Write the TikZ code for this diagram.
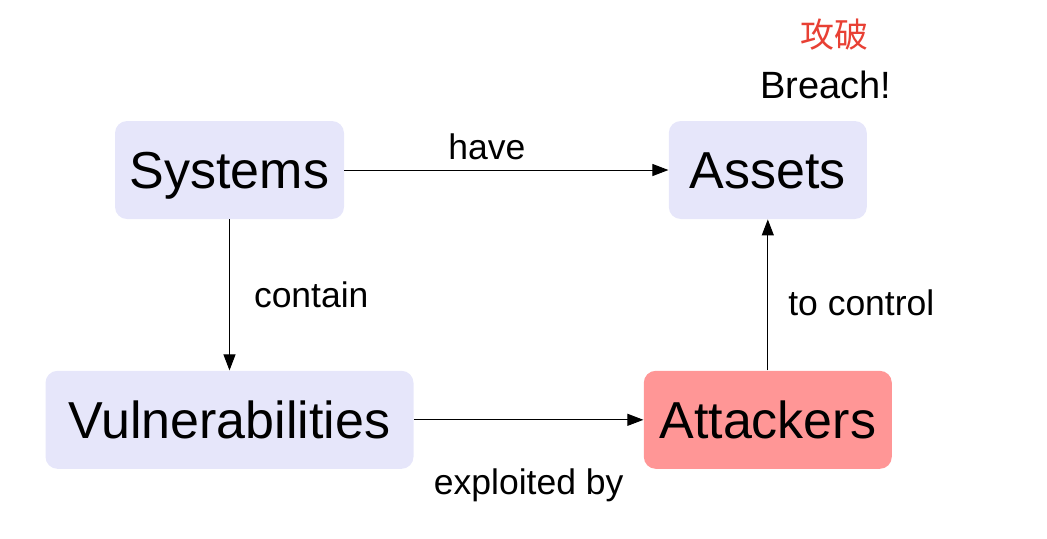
\documentclass[tikz,border=0pt]{standalone}
\usepackage{fontspec}
\setmainfont{Liberation Sans}
\newfontfamily\cjk{Noto Sans CJK SC}
\usepackage{tikz}
\usetikzlibrary{arrows.meta,positioning}
\definecolor{boxblue}{RGB}{230,230,250}
\definecolor{boxred}{RGB}{255,150,150}
\definecolor{inkred}{RGB}{232,64,52}
\tikzset{
  post/.style={->,>={Triangle[length=8pt,width=6pt]},line width=0.5pt},
}

\begin{document}
\begin{tikzpicture}[x=0.5pt,y=-0.5pt,
        thing/.style={rectangle,rounded corners=6pt, inner sep=0pt,
        minimum height=49pt, text height=21.2pt, text depth=2.6pt,
        align=center, fill=boxblue,
        font={\fontsize{26}{30}\selectfont}},
        attacker/.style={thing, fill=boxred},
        lbl/.style={inner sep=0pt, font={\fontsize{17.75}{20}\selectfont}}
        ]
    \useasboundingbox (0,0) rectangle (1047,538);

    \node[thing, minimum width=114.5pt] (sys) at (229.5,170) {Systems};
    \node[thing, minimum width=99pt, right=162pt of sys] (assets) {Assets};
    \node[thing, minimum width=184pt, below=75.5pt of sys] (vuln) {Vulnerabilities};
    \node[attacker, minimum width=124pt, below=75.5pt of assets] (att) {Attackers};

    \node[lbl, font={\fontsize{19}{22}\selectfont}] (breach) at (826,85) {Breach!};
    \node[lbl, text=inkred, font={\cjk\fontsize{17}{20}\selectfont}] (pofa) at (834,35) {攻破};

    \draw[post] (sys) -- node[lbl, pos=0.44, above=5pt] {have} (assets);
    \draw[post] (sys) -- node[lbl, midway, right=12pt] {contain} (vuln);
    \draw[post] (vuln) -- node[lbl, midway, below=24pt] {exploited by} (att);
    \draw[post] (att) -- node[lbl, pos=0.45, right=10pt] {to control} (assets);

\end{tikzpicture}
\end{document}
